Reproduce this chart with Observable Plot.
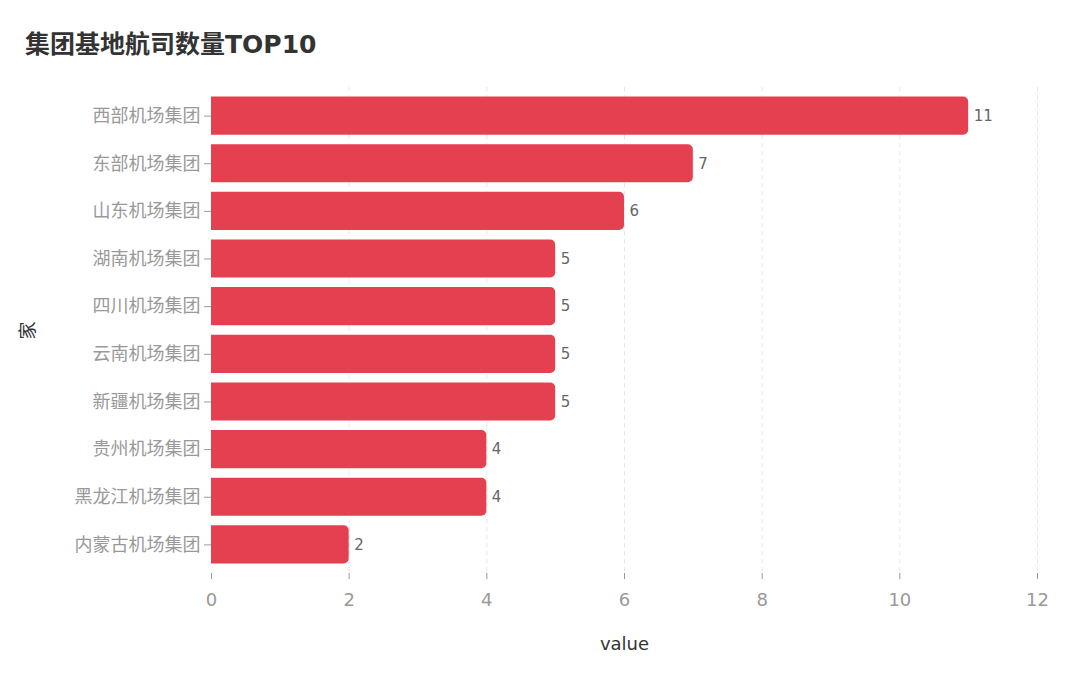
<!DOCTYPE html>
<html>
<head>
<meta charset="utf-8">
<script src="https://cdn.jsdelivr.net/npm/d3@7"></script>
<script src="https://cdn.jsdelivr.net/npm/@observablehq/plot@0.6"></script>
<style>
  body { margin: 0; background: #fff; font-family: "DejaVu Sans", "Noto Sans CJK SC", sans-serif; }
  #wrap { position: relative; width: 1080px; height: 679px; }
  #title { position: absolute; left: 25px; top: 24px; font-size: 25px; font-weight: bold; color: #333; font-family: "DejaVu Sans", "Noto Sans CJK SC", sans-serif; }
  #chart { position: absolute; left: 0; top: 0; }
</style>
</head>
<body>
<div id="wrap">
  <div id="chart"></div>
  <div id="title">集团基地航司数量TOP10</div>
</div>
<script>
const groups = ["西部机场集团", "东部机场集团", "山东机场集团", "湖南机场集团", "四川机场集团", "云南机场集团", "新疆机场集团", "贵州机场集团", "黑龙江机场集团", "内蒙古机场集团"];
const values = [11, 7, 6, 5, 5, 5, 5, 4, 4, 2];
const xTicks = [0, 2, 4, 6, 8, 10, 12];

const data = groups.map((g, i) => ({group: g, value: values[i]}));

const chart = Plot.plot({
  width: 1080,
  height: 679,
  marginTop: 87,
  marginBottom: 106,
  marginLeft: 211,
  marginRight: 43,
  style: {fontFamily: '"DejaVu Sans", "Noto Sans CJK SC", sans-serif', fontSize: "17px", background: "transparent"},
  x: {domain: [0, 12], ticks: xTicks},
  y: {domain: groups, padding: 0.2, round: false},
  marks: [
    Plot.gridX(xTicks.slice(1), {stroke: "#e6e6e6", strokeOpacity: 1, strokeDasharray: "4,4"}),
    Plot.barX(data, {x: "value", y: "group", fill: "#E5404F", rx2: 5}),
    Plot.text(data, {x: "value", y: "group", text: d => String(d.value), textAnchor: "start", dx: 5, fill: "#666", fontSize: 15}),
    Plot.axisY({tickSize: 7, tickPadding: 4, stroke: "#999", color: "#999", fontSize: 18, label: "家", labelAnchor: "center", labelOffset: 190, labelArrow: false}),
    Plot.axisX({ticks: xTicks, tickSize: 6, tickPadding: 14, stroke: "#999", color: "#999", fontSize: 18, label: "value", labelAnchor: "center", labelOffset: 76, labelArrow: false})
  ]
});
document.getElementById("chart").appendChild(chart);
chart.querySelectorAll("g[aria-label='y-axis label'] text, g[aria-label='x-axis label'] text").forEach(t => { t.setAttribute("fill", "#333"); });
</script>
</body>
</html>
